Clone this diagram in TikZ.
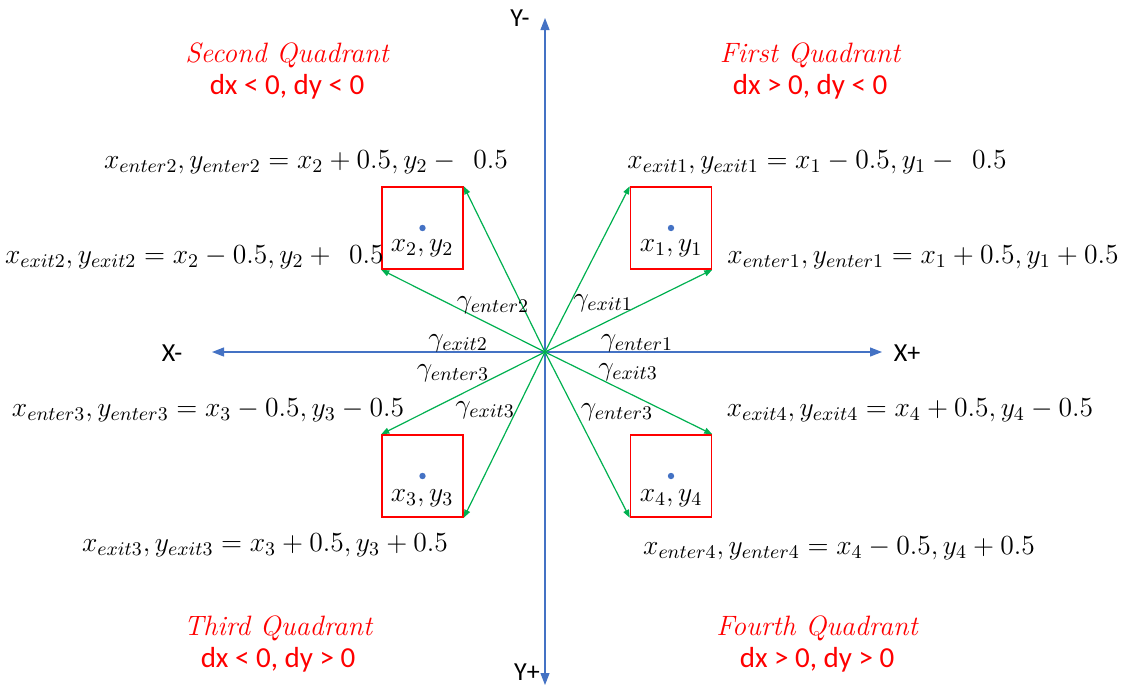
\documentclass[tikz,border=0pt]{standalone}
\usepackage{fix-cm}
\usepackage{fontspec}
\setsansfont{Carlito}
\usetikzlibrary{arrows.meta}
\definecolor{axisblue}{HTML}{4472C4}
\definecolor{flowgreen}{HTML}{00B050}
\definecolor{quadred}{HTML}{FF0000}
\begin{document}
\begin{tikzpicture}[x=0.5pt,y=-0.5pt,
    axisline/.style={axisblue,line width=0.6pt,{Triangle[length=6pt,width=4.5pt]}-{Triangle[length=6pt,width=4.5pt]}},
    flowarrow/.style={flowgreen,line width=0.6pt,-{Triangle[length=4pt,width=3pt]}},
    cellbox/.style={draw=quadred,line width=0.75pt,minimum width=40.5pt,minimum height=41pt,inner sep=0pt},
    axislabel/.style={font=\sffamily\fontsize{13}{15}\selectfont,inner sep=0pt},
    quadtitle/.style={text=quadred,font=\itshape\fontsize{14}{16}\selectfont,inner sep=0pt},
    quadsign/.style={text=quadred,font=\sffamily\fontsize{14.5}{17}\selectfont,inner sep=0pt},
    eqlabel/.style={font=\fontsize{13.8}{16}\selectfont,inner sep=0pt}]
  \useasboundingbox (0,0) rectangle (1123,687);
  % axes
  \coordinate (O) at (545,352);
  \coordinate (xneg) at (212,352);
  \coordinate (xpos) at (882,352);
  \coordinate (yneg) at (545,18);
  \coordinate (ypos) at (545,685);
  \draw[axisline] (xneg) -- (xpos);
  \draw[axisline] (yneg) -- (ypos);
  \node[axislabel] (lxneg) at (172,353) {X-};
  \node[axislabel] (lxpos) at (907,353) {X+};
  \node[axislabel] (lyneg) at (520,18) {Y-};
  \node[axislabel] (lypos) at (527,672) {Y+};
  % quadrant titles
  \node[quadtitle] (q2) at (287,55) {Second Quadrant};
  \node[quadsign] (s2) at (287,87) {dx < 0, dy < 0};
  \node[quadtitle] (q1) at (810,55) {First Quadrant};
  \node[quadsign] (s1) at (810,87) {dx > 0, dy < 0};
  \node[quadtitle] (q3) at (278,628) {Third Quadrant};
  \node[quadsign] (s3) at (278,660) {dx < 0, dy > 0};
  \node[quadtitle] (q4) at (817,628) {Fourth Quadrant};
  \node[quadsign] (s4) at (817,660) {dx > 0, dy > 0};
  % cells
  \node[cellbox] (b1) at (671,228) {};
  \node[cellbox] (b2) at (422.5,228) {};
  \node[cellbox] (b3) at (422.5,476) {};
  \node[cellbox] (b4) at (671,476) {};
  \foreach \c in {b1,b2,b3,b4}
    \fill[axisblue] (\c.center) circle (1.6pt);
  \node[eqlabel] (p1) at (671,248) {$x_1, y_1$};
  \node[eqlabel] (p2) at (422,248) {$x_2, y_2$};
  \node[eqlabel] (p3) at (422,498) {$x_3, y_3$};
  \node[eqlabel] (p4) at (671,498) {$x_4, y_4$};
  % enter / exit vectors
  \draw[flowarrow] (O) -- (b1.north west);
  \draw[flowarrow] (O) -- (b1.south east);
  \draw[flowarrow] (O) -- (b2.north east);
  \draw[flowarrow] (O) -- (b2.south west);
  \draw[flowarrow] (O) -- (b3.north west);
  \draw[flowarrow] (O) -- (b3.south east);
  \draw[flowarrow] (O) -- (b4.north east);
  \draw[flowarrow] (O) -- (b4.south west);
  % angles
  \node[eqlabel] (g1) at (603,303) {$\gamma_{exit1}$};
  \node[eqlabel] (g2) at (637,343) {$\gamma_{enter1}$};
  \node[eqlabel] (g3) at (493,305) {$\gamma_{enter2}$};
  \node[eqlabel] (g4) at (458,343) {$\gamma_{exit2}$};
  \node[eqlabel] (g5) at (453,373) {$\gamma_{enter3}$};
  \node[eqlabel] (g6) at (485,410) {$\gamma_{exit3}$};
  \node[eqlabel] (g7) at (628,372) {$\gamma_{exit3}$};
  \node[eqlabel] (g8) at (617,412) {$\gamma_{enter3}$};
  % corner coordinates
  \node[eqlabel] (e1) at (817,162) {$x_{exit1}, y_{exit1} = x_1 - 0.5, y_1 -\;\, 0.5$};
  \node[eqlabel,anchor=west] (n1) at (727,257) {$x_{enter1}, y_{enter1} = x_1 + 0.5, y_1 + 0.5$};
  \node[eqlabel] (n2) at (306,162) {$x_{enter2}, y_{enter2} = x_2 + 0.5, y_2 -\;\, 0.5$};
  \node[eqlabel,anchor=east] (e2) at (384,257) {$x_{exit2}, y_{exit2} = x_2 - 0.5, y_2 +\;\, 0.5$};
  \node[eqlabel] (n3) at (208,410) {$x_{enter3}, y_{enter3} = x_3 - 0.5, y_3 - 0.5$};
  \node[eqlabel] (e3) at (265,545) {$x_{exit3}, y_{exit3} = x_3 + 0.5, y_3 + 0.5$};
  \node[eqlabel] (e4) at (910,410) {$x_{exit4}, y_{exit4} = x_4 + 0.5, y_4 - 0.5$};
  \node[eqlabel] (n4) at (839,548) {$x_{enter4}, y_{enter4} = x_4 - 0.5, y_4 + 0.5$};
\end{tikzpicture}
\end{document}
